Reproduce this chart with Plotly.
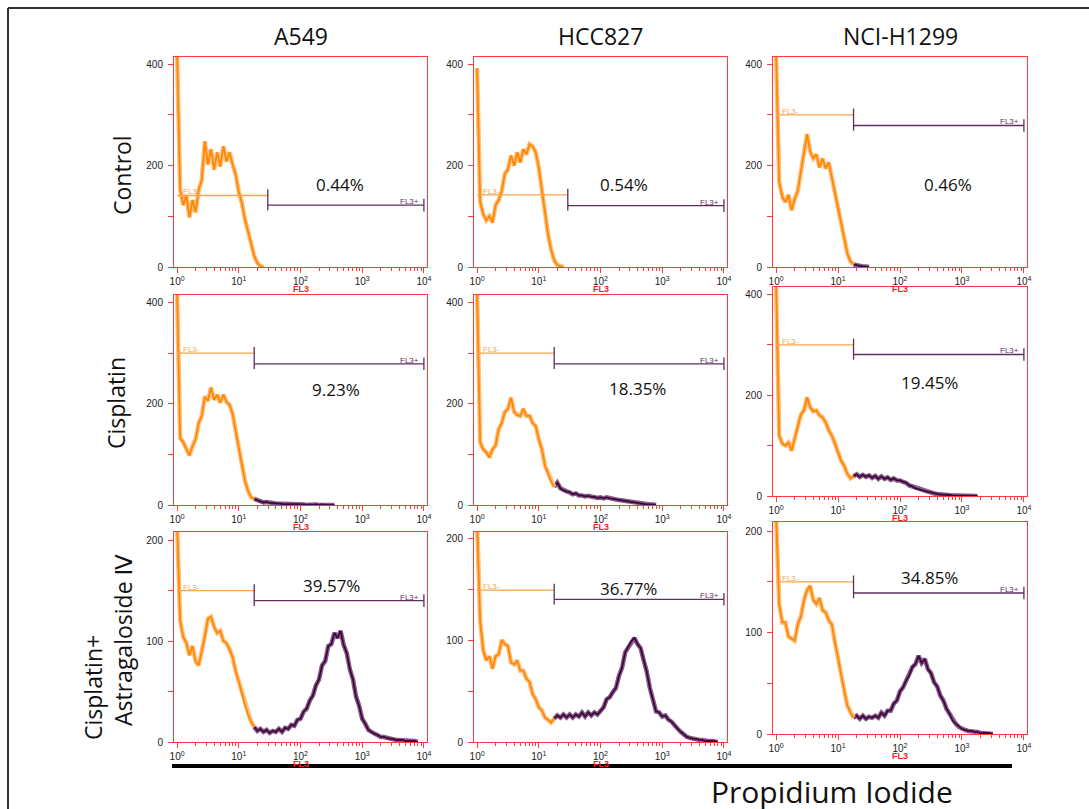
import numpy as np
import plotly.graph_objects as go

W, H = 1089, 809

# ---------------- data ----------------
# FL3 channel positions in decades (10^0 ... 10^4)
FL3_DECADE = [0.00, 0.05, 0.10, 0.15, 0.20, 0.25, 0.30, 0.35, 0.40, 0.45,
              0.50, 0.55, 0.60, 0.65, 0.70, 0.75, 0.80, 0.85, 0.90, 0.95,
              1.00, 1.05, 1.10, 1.15, 1.20, 1.25, 1.30, 1.35, 1.40, 1.45,
              1.50, 1.55, 1.60, 1.65, 1.70, 1.75, 1.80, 1.85, 1.90, 1.95,
              2.00, 2.05, 2.10, 2.15, 2.20, 2.25, 2.30, 2.35, 2.40, 2.45,
              2.50, 2.55, 2.60, 2.65, 2.70, 2.75, 2.80, 2.85, 2.90, 2.95,
              3.00, 3.05, 3.10, 3.15, 3.20, 3.25, 3.30, 3.35, 3.40, 3.45,
              3.50, 3.55, 3.60, 3.65, 3.70, 3.75, 3.80, 3.85, 3.90, 3.95, 4.00]

CELL_LINES = ["A549", "HCC827", "NCI-H1299"]
TREATMENTS = ["Control", "Cisplatin", "Cisplatin+", "Astragaloside Ⅳ"]

COUNTS_A549_CONTROL = [420, 152, 122, 142, 98, 132, 108, 152, 172, 248,
                       202, 232, 192, 226, 198, 238, 208, 226, 202, 182,
                       148, 126, 94, 68, 42, 22, 8, 2, 0]
COUNTS_HCC827_CONTROL = [392, 128, 104, 92, 100, 88, 122, 132, 150, 184,
                         192, 220, 200, 226, 206, 232, 222, 242, 238, 226,
                         196, 150, 106, 64, 34, 13, 4, 1, 0]
COUNTS_H1299_CONTROL = [420, 168, 138, 128, 142, 112, 134, 150, 188, 226,
                        262, 228, 214, 222, 196, 214, 194, 206, 176, 146,
                        118, 86, 54, 27, 11, 5, 3, 2, 1, 1, 0]

COUNTS_A549_CIS = [420, 132, 124, 110, 98, 116, 130, 162, 176, 214,
                   206, 232, 208, 218, 202, 218, 204, 198, 180, 146,
                   114, 80, 48, 28, 15, 12, 9, 7, 5, 6,
                   4, 4, 3, 3, 2, 2, 1, 2, 1, 1,
                   1, 1, 0, 1, 0, 1, 0, 1, 0, 0, 1, 0]
COUNTS_HCC827_CIS = [420, 124, 110, 104, 94, 110, 118, 150, 162, 184,
                     190, 212, 184, 178, 176, 190, 176, 176, 162, 156,
                     130, 110, 78, 62, 46, 36, 44, 33, 29, 27,
                     25, 21, 23, 19, 19, 17, 18, 16, 16, 14,
                     15, 13, 15, 13, 12, 11, 10, 9, 7, 6,
                     5, 4, 3, 2, 2, 1, 1, 1, 0]
COUNTS_H1299_CIS = [420, 120, 104, 100, 106, 90, 114, 136, 162, 170,
                    196, 176, 168, 170, 160, 156, 146, 130, 120, 104,
                    86, 70, 60, 44, 35, 39, 43, 38, 42, 38,
                    41, 36, 40, 34, 39, 34, 37, 32, 35, 31,
                    31, 28, 26, 21, 19, 15, 13, 12, 10, 8,
                    7, 5, 4, 3, 3, 2, 2, 1, 1, 1,
                    0, 1, 0, 0, 1, 0]

COUNTS_A549_COMBO = [215, 120, 104, 98, 86, 95, 80, 76, 90, 104,
                     122, 124, 114, 108, 110, 100, 98, 92, 84, 70,
                     60, 47, 37, 27, 20, 15, 11, 13, 10, 12,
                     9, 11, 10, 13, 10, 14, 13, 17, 16, 22,
                     23, 30, 33, 41, 46, 56, 62, 76, 80, 95,
                     97, 108, 103, 110, 96, 88, 72, 62, 45, 36,
                     23, 18, 12, 10, 8, 7, 5, 5, 4, 3,
                     3, 2, 2, 2, 1, 1, 1, 1, 0]
COUNTS_HCC827_COMBO = [215, 118, 90, 80, 84, 72, 84, 86, 100, 96,
                       94, 78, 76, 80, 70, 70, 62, 59, 47, 42,
                       34, 31, 24, 22, 19, 23, 26, 24, 27, 24,
                       27, 24, 27, 25, 29, 25, 29, 26, 29, 27,
                       31, 34, 42, 44, 49, 53, 65, 73, 88, 93,
                       99, 102, 96, 92, 80, 69, 53, 42, 30, 29,
                       25, 26, 22, 20, 16, 13, 10, 7, 5, 4,
                       3, 3, 2, 2, 1, 1, 1, 1, 0]
COUNTS_H1299_COMBO = [215, 128, 110, 110, 96, 94, 92, 108, 116, 132,
                      142, 146, 132, 128, 134, 122, 120, 112, 108, 90,
                      76, 58, 43, 28, 21, 16, 18, 15, 18, 15,
                      17, 16, 18, 16, 21, 18, 23, 23, 30, 33,
                      42, 46, 53, 58, 66, 69, 77, 70, 74, 64,
                      60, 51, 47, 38, 33, 25, 20, 13, 10, 7,
                      5, 4, 3, 3, 2, 2, 1, 1, 1, 1, 0]

COUNTS = [[COUNTS_A549_CONTROL, COUNTS_HCC827_CONTROL, COUNTS_H1299_CONTROL],
          [COUNTS_A549_CIS, COUNTS_HCC827_CIS, COUNTS_H1299_CIS],
          [COUNTS_A549_COMBO, COUNTS_HCC827_COMBO, COUNTS_H1299_COMBO]]

PCT_LABELS = [["0.44%", "0.54%", "0.46%"],
              ["9.23%", "18.35%", "19.45%"],
              ["39.57%", "36.77%", "34.85%"]]
PCT_X = [[2.64, 2.38, 2.78], [2.57, 2.60, 2.48], [2.50, 2.46, 2.48]]
PCT_Y = [[163, 163, 163], [229, 231, 226], [155, 151, 154]]

GATE_DECADE = [[1.47, 1.47, 1.25], [1.25, 1.25, 1.25], [1.25, 1.25, 1.25]]
NEG_LEVEL = [[141, 142, 300], [300, 300, 300], [150, 149, 150]]
POS_LEVEL = [[122, 121, 279], [279, 279, 281], [140, 140, 139]]

# ---------------- geometry / style ----------------
COL_PX = [(174, 427), (474, 727), (773, 1027)]
ROW_PX = [[(57, 267), (57, 267), (57, 267)],
          [(295, 505), (295, 505), (287, 496)],
          [(532, 742), (532, 742), (522, 734)]]
Y_MAX = [[414, 414, 414], [415, 415, 415], [208, 206, 209]]
X_RANGE = [-0.05, 4.05]

RED = "#ff3b3b"
NEG_COLOR = "#ff8800"
NEG_HALO = "#ffbf80"
POS_COLOR = "#3a0a3a"
POS_HALO = "#8a5a8a"
NEG_GATE = "#f7a54e"
POS_GATE = "#5e2e5e"
FONT_MAIN = "Open Sans, Noto Sans, DejaVu Sans, sans-serif"
FONT_TICK = "Liberation Sans, Arial, sans-serif"

minor_x = [float(np.log10(k * 10 ** d)) for d in range(4) for k in range(2, 10)]

fig = go.Figure()
layout = dict(width=W, height=H, margin=dict(l=0, r=0, t=0, b=0, pad=0),
              autosize=False,
              paper_bgcolor="white", plot_bgcolor="white", showlegend=False)
annotations = []
shapes = []


def curve(xs, ys, color, halo, xa, ya):
    fig.add_trace(go.Scatter(x=xs, y=ys, mode="lines",
                             line=dict(color=halo, width=4.5),
                             xaxis=xa, yaxis=ya, hoverinfo="skip"))
    fig.add_trace(go.Scatter(x=xs, y=ys, mode="lines",
                             line=dict(color=color, width=1.8),
                             xaxis=xa, yaxis=ya, hoverinfo="skip"))


k = 0
for r in range(3):
    for c in range(3):
        k += 1
        xa = "x" if k == 1 else f"x{k}"
        ya = "y" if k == 1 else f"y{k}"
        xkey = "xaxis" if k == 1 else f"xaxis{k}"
        ykey = "yaxis" if k == 1 else f"yaxis{k}"
        l, rr = COL_PX[c]
        top, bot = ROW_PX[r][c]
        ymax = Y_MAX[r][c]
        if r < 2:
            yt, ym = [0, 200, 400], [100, 300]
        else:
            yt, ym = [0, 100, 200], [50, 150]
        layout[xkey] = dict(domain=[l / W, rr / W], range=X_RANGE, anchor=ya,
                            automargin=False,
                            showgrid=False, zeroline=False, showline=True,
                            linecolor=RED, linewidth=1, mirror=True,
                            tickmode="array", tickvals=[0, 1, 2, 3, 4],
                            ticktext=[f"10<sup>{i}</sup>" for i in range(5)],
                            ticks="outside", ticklen=5, tickcolor=RED,
                            tickfont=dict(family=FONT_TICK, size=10, color="#222"),
                            minor=dict(tickmode="array", tickvals=minor_x,
                                       ticks="outside", ticklen=3,
                                       tickcolor=RED, showgrid=False),
                            fixedrange=True)
        layout[ykey] = dict(domain=[1 - bot / H, 1 - top / H], range=[0, ymax],
                            anchor=xa, automargin=False,
                            showgrid=False, zeroline=False,
                            showline=True, linecolor=RED, linewidth=1, mirror=True,
                            tickmode="array", tickvals=yt,
                            ticktext=[str(v) for v in yt],
                            ticks="outside", ticklen=5, tickcolor=RED,
                            ticklabelstandoff=3,
                            tickfont=dict(family=FONT_TICK, size=10, color="#222"),
                            minor=dict(tickmode="array", tickvals=ym,
                                       ticks="outside", ticklen=5,
                                       tickcolor=RED, showgrid=False),
                            fixedrange=True)

        counts = COUNTS[r][c]
        xs = FL3_DECADE[:len(counts)]
        g = GATE_DECADE[r][c]
        n_neg = sum(1 for v in xs if v <= g + 1e-9)
        if n_neg < len(xs):
            curve(xs[n_neg - 1:], counts[n_neg - 1:], POS_COLOR, POS_HALO, xa, ya)
        curve(xs[:n_neg], counts[:n_neg], NEG_COLOR, NEG_HALO, xa, ya)

        neg = NEG_LEVEL[r][c]
        pos = POS_LEVEL[r][c]
        # FL3- gate
        fig.add_trace(go.Scatter(x=[0, g], y=[neg, neg], mode="lines",
                                 line=dict(color=NEG_GATE, width=1.3),
                                 xaxis=xa, yaxis=ya, hoverinfo="skip"))
        # FL3+ gate
        fig.add_trace(go.Scatter(
            x=[g, 4, None, g, g, None, 4, 4],
            y=[pos, pos, None, neg + 0.03 * ymax, pos - 0.025 * ymax, None,
               pos + 0.03 * ymax, pos - 0.03 * ymax],
            mode="lines", line=dict(color=POS_GATE, width=1.3),
            xaxis=xa, yaxis=ya, hoverinfo="skip"))

        annotations.append(dict(x=0.06, y=neg, xref=xa, yref=ya, text="FL3-",
                                showarrow=False, xanchor="left", yanchor="bottom",
                                yshift=-3,
                                font=dict(family=FONT_TICK, size=8, color=NEG_GATE)))
        annotations.append(dict(x=3.96, y=pos, xref=xa, yref=ya, text="FL3+",
                                showarrow=False, xanchor="right", yanchor="bottom",
                                yshift=-3,
                                font=dict(family=FONT_TICK, size=8, color=POS_GATE)))
        annotations.append(dict(x=PCT_X[r][c], y=PCT_Y[r][c], xref=xa, yref=ya,
                                text=PCT_LABELS[r][c], showarrow=False,
                                xanchor="center", yanchor="middle",
                                font=dict(family=FONT_MAIN, size=17, color="#111")))
        annotations.append(dict(x=0.5, y=0, xref=f"{xa} domain", yref=f"{ya} domain",
                                text="<b>FL3</b>", showarrow=False,
                                xanchor="center", yanchor="middle", yshift=-22,
                                font=dict(family=FONT_TICK, size=9, color="#ff1a1a")))

# column titles
for c, name in enumerate(CELL_LINES):
    cx = (COL_PX[c][0] + COL_PX[c][1]) / 2 / W
    annotations.append(dict(x=cx, y=1 - 36 / H, xref="paper", yref="paper",
                            text=name, showarrow=False,
                            xanchor="center", yanchor="middle",
                            font=dict(family=FONT_MAIN, size=23, color="#111")))

# row labels (rotated)
ROW_LABEL_POS = [(122, 175), (116, 403), (93, 688), (123, 640)]
for (px, py), name in zip(ROW_LABEL_POS, TREATMENTS):
    annotations.append(dict(x=px / W, y=1 - py / H, xref="paper", yref="paper",
                            text=name, showarrow=False, textangle=-90,
                            xanchor="center", yanchor="middle",
                            font=dict(family=FONT_MAIN, size=23, color="#111")))

annotations.append(dict(x=832 / W, y=0, xref="paper", yref="paper",
                        text="Propidium Iodide", showarrow=False,
                        xanchor="center", yanchor="bottom", yshift=-5,
                        font=dict(family=FONT_MAIN, size=30, color="#111")))

# figure frame and bottom bar
shapes.append(dict(type="line", xref="paper", yref="paper",
                   x0=8 / W, x1=1.0, y0=1 - 8 / H, y1=1 - 8 / H,
                   line=dict(color="#333", width=2)))
shapes.append(dict(type="line", xref="paper", yref="paper",
                   x0=8 / W, x1=8 / W, y0=1 - 8 / H, y1=0,
                   line=dict(color="#333", width=2)))
shapes.append(dict(type="line", xref="paper", yref="paper",
                   x0=172 / W, x1=1012 / W, y0=1 - 766 / H, y1=1 - 766 / H,
                   line=dict(color="#000", width=4)))

layout["annotations"] = annotations
layout["shapes"] = shapes
fig.update_layout(**layout)
fig.write_html("out.html",
               config={"displayModeBar": False},
               post_script="document.documentElement.style.margin='0';"
                           "document.documentElement.style.overflow='hidden';"
                           "document.body.style.margin='0';"
                           "document.body.style.overflow='hidden';")
